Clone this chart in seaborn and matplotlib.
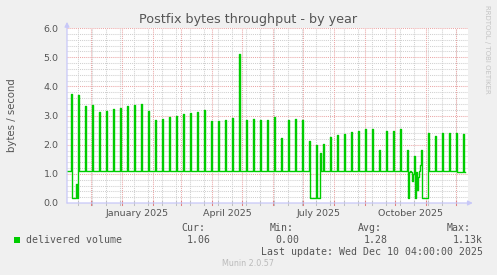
import numpy as np
import pandas as pd
import matplotlib
matplotlib.use("Agg")
import matplotlib.pyplot as plt
import matplotlib.transforms as mtransforms
from matplotlib.patches import Rectangle
import seaborn as sns

# ---------------- data ----------------
series_start = "2024-11-05"
series_end = "2025-12-10"
baseline_level = 1.10
first_spike = "2024-11-11"           # weekly peaks (Mondays)
spike_heights = [
    3.74, 3.70, 3.33, 3.36, 3.11, 3.15, 3.22, 3.26, 3.33, 3.36,
    3.40, 3.15, 2.83, 2.88, 2.95, 2.99, 3.05, 3.09, 3.12, 3.19,
    2.81, 2.80, 2.83, 2.91, 5.11, 2.85, 2.88, 2.85, 2.85, 2.95,
    2.22, 2.85, 2.88, 2.85, 2.13, 1.99, 2.02, 2.26, 2.33, 2.37,
    2.43, 2.47, 2.53, 2.54, 1.82, 2.47, 2.47, 2.54, 1.82, 1.60,
    1.82, 2.39, 2.30, 2.39, 2.39, 2.39, 2.37,
]
dip_dates = [
    "2024-11-12", "2024-11-13", "2024-11-14", "2024-11-15", "2024-11-16", "2024-11-17",
    "2025-07-08", "2025-07-09", "2025-07-10", "2025-07-11", "2025-07-12", "2025-07-13",
    "2025-07-15", "2025-07-16", "2025-07-17", "2025-07-18",
    "2025-10-14", "2025-10-15", "2025-10-17", "2025-10-18", "2025-10-19",
    "2025-10-21", "2025-10-22", "2025-10-23", "2025-10-24", "2025-10-26",
    "2025-10-28", "2025-10-29", "2025-10-30", "2025-10-31", "2025-11-01", "2025-11-02",
    "2025-12-02", "2025-12-03", "2025-12-04", "2025-12-05", "2025-12-06", "2025-12-07",
    "2025-12-09", "2025-12-10",
]
dip_values = [
    0.16, 0.16, 0.16, 0.16, 0.64, 0.16,
    0.16, 0.16, 0.16, 0.16, 0.16, 0.16,
    0.16, 0.16, 0.16, 1.70,
    0.16, 1.05, 1.05, 0.75, 1.00,
    0.16, 1.05, 0.45, 0.90, 1.30,
    0.16, 0.16, 0.16, 0.16, 0.16, 0.16,
    1.06, 1.06, 1.06, 1.06, 1.06, 1.06,
    1.06, 1.06,
]
y_tick_labels = ["0.0", "1.0", "2.0", "3.0", "4.0", "5.0", "6.0"]
x_tick_labels = ["January 2025", "April 2025", "July 2025", "October 2025"]
x_tick_months = ["2025-01-01", "2025-04-01", "2025-07-01", "2025-10-01"]

# ---------------- assemble daily series ----------------
dates = pd.date_range(series_start, series_end, freq="D")
vals = pd.Series(baseline_level, index=dates)
spike_dates = pd.date_range(first_spike, periods=len(spike_heights), freq="7D")
vals.loc[spike_dates] = spike_heights
vals.loc[pd.to_datetime(dip_dates)] = dip_values
df = pd.DataFrame({"date": dates, "value": vals.values})

# ---------------- figure ----------------
W, H = 497, 275
BG = "#F0F0F0"
TXT = "#555555"
fig = plt.figure(figsize=(W / 100, H / 100), dpi=100, facecolor=BG)
L, R, T, B = 67, 468, 28, 203
ax = fig.add_axes([L / W, 1 - B / H, (R - L) / W, (B - T) / H])
ax.set_facecolor("white")

x0 = pd.Timestamp("2025-01-01") - pd.Timedelta(days=55.35)
x1 = pd.Timestamp("2025-12-13")
ax.set_xlim(x0, x1)
ax.set_ylim(0, 6)

minor_c = "#D0D0D0"
major_c = "#EBA7A7"
dots = (0, (1, 1))
# horizontal grid
for v in np.arange(0.2, 6.01, 0.2):
    is_major = abs(v - round(v)) < 1e-6
    ax.axhline(v, color=major_c if is_major else minor_c, lw=0.75, ls=dots, zorder=1 if is_major else 0.5)
# vertical grid: two-week minor, month major
biweek = pd.date_range("2024-11-18", "2025-12-13", freq="14D")
months = pd.date_range("2024-12-01", "2025-12-01", freq="MS")
blend = mtransforms.blended_transform_factory(ax.transData, ax.transAxes)
for d in biweek:
    ax.axvline(d, color=minor_c, lw=0.75, ls=dots, zorder=0.5)
    ax.plot([d, d], [-0.012, 0.012], transform=blend, color="#C0C0C0", lw=0.75, clip_on=False, zorder=3)
for d in months:
    ax.axvline(d, color=major_c, lw=0.75, ls=dots, zorder=1)
    ax.plot([d, d], [-0.014, 0.014], transform=blend, color="#E08080", lw=0.75, clip_on=False, zorder=3)

sns.lineplot(data=df, x="date", y="value", ax=ax, color="#00CC00", lw=1.0,
             drawstyle="steps-post", estimator=None, zorder=4)

for s in ax.spines.values():
    s.set_visible(False)
axis_c = "#C8C8F8"
ax.annotate("", xy=(0, 1.035), xytext=(0, 0), xycoords="axes fraction",
            arrowprops=dict(arrowstyle="-|>", color=axis_c, lw=0.9, mutation_scale=7,
                            shrinkA=0, shrinkB=0), annotation_clip=False, zorder=5)
ax.annotate("", xy=(1.012, 0), xytext=(0, 0), xycoords="axes fraction",
            arrowprops=dict(arrowstyle="-|>", color=axis_c, lw=0.9, mutation_scale=7,
                            shrinkA=0, shrinkB=0), annotation_clip=False, zorder=5)

ax.set_yticks(np.arange(0, 7, 1.0))
ax.set_yticklabels(y_tick_labels)
ax.set_xticks(pd.to_datetime(x_tick_months) + pd.Timedelta(days=15))
ax.set_xticklabels(x_tick_labels)
ax.tick_params(axis="both", length=0, labelsize=6.8, labelcolor=TXT)
ax.tick_params(axis="y", pad=6)
ax.tick_params(axis="x", pad=4)
ax.set_xlabel("")
ax.set_ylabel("")

# texts
fig.text(248 / W, 1 - 20 / H, "Postfix bytes throughput - by year", ha="center", va="center",
         fontsize=9.2, color=TXT)
fig.text(12 / W, 1 - 115 / H, "bytes / second", rotation=90, ha="center", va="center",
         fontsize=7.3, color=TXT)
fig.text(487 / W, 1 - 5 / H, "RRDTOOL / TOBI OETIKER", rotation=270, ha="center", va="top",
         fontsize=5.0, color="#C4C4C4")

mono = "DejaVu Sans Mono"
fs = 7.1
fig.patches.append(Rectangle((14 / W, 1 - 243 / H), 6 / W, 6 / H, transform=fig.transFigure,
                             facecolor="#00CC00", edgecolor="none"))
fig.text(26 / W, 1 - 240 / H, "delivered volume", ha="left", va="center", family=mono, fontsize=fs, color=TXT)
for lx, lab in zip([181.7, 270, 358.3, 446.7], ["Cur:", "Min:", "Avg:", "Max:"]):
    fig.text(lx / W, 1 - 228 / H, lab, ha="left", va="center", family=mono, fontsize=fs, color=TXT)
for rx, val in zip([211, 299.5, 388, 483], ["1.06", "0.00", "1.28", "1.13k"]):
    fig.text(rx / W, 1 - 240 / H, val, ha="right", va="center", family=mono, fontsize=fs, color=TXT)
fig.text(483 / W, 1 - 252 / H, "Last update: Wed Dec 10 04:00:00 2025", ha="right", va="center",
         family=mono, fontsize=fs, color=TXT)
fig.text(248 / W, 1 - 264 / H, "Munin 2.0.57", ha="center", va="center", fontsize=5.8, color="#BBBBBB")

fig.savefig("out.png", dpi=100, facecolor=BG)
